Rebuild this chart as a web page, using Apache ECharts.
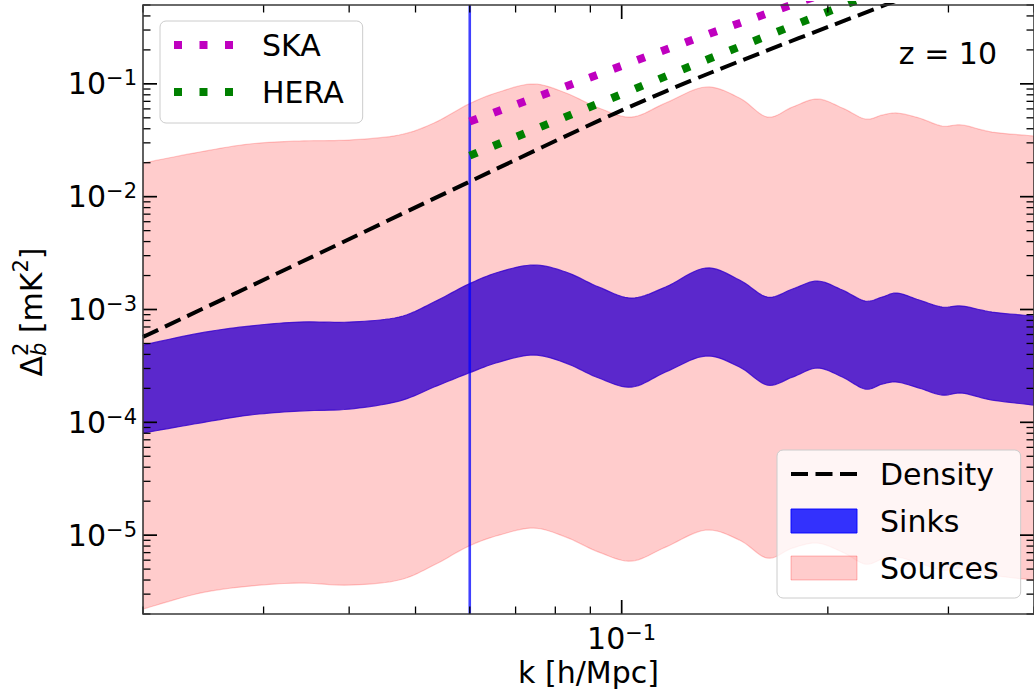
<!DOCTYPE html>
<html>
<head>
<meta charset="utf-8">
<title>Δ²_b (k) at z = 10</title>
<script src="https://cdn.jsdelivr.net/npm/echarts@6.0.0/dist/echarts.min.js"></script>
<style>
  html, body { margin: 0; padding: 0; background: #ffffff; }
  #chart { width: 1034px; height: 698px; }
</style>
</head>
<body>
<div id="chart"></div>
<script>
// ---- data -----------------------------------------------------------------
// wavenumbers (h/Mpc) at which the band edges are sampled
const kGrid = [0.0200, 0.0242, 0.0286, 0.0338, 0.0400, 0.0473, 0.0532, 0.0598,
  0.0662, 0.0744, 0.0829, 0.0926, 0.1034, 0.1159, 0.1326, 0.1486, 0.1632,
  0.1776, 0.1931, 0.2100, 0.2268, 0.2401, 0.2525, 0.2719, 0.2937, 0.3141,
  0.3474, 0.4000];

// Sinks band (mK^2)
const sinksUpper = [4.84e-4, 6.18e-4, 7.13e-4, 7.74e-4, 7.74e-4, 8.57e-4, 1.164e-3,
  1.681e-3, 2.148e-3, 2.477e-3, 2.148e-3, 1.581e-3, 1.263e-3, 1.581e-3, 2.331e-3,
  1.824e-3, 1.289e-3, 1.518e-3, 1.788e-3, 1.487e-3, 1.188e-3, 1.289e-3, 1.398e-3,
  1.213e-3, 1.051e-3, 1.073e-3, 9.49e-4, 8.74e-4];
const sinksLower = [8.03e-5, 9.85e-5, 1.159e-4, 1.258e-4, 1.310e-4, 1.543e-4, 2.054e-4,
  2.733e-4, 3.42e-4, 3.947e-4, 3.35e-4, 2.468e-4, 2.054e-4, 2.79e-4, 3.867e-4,
  3.09e-4, 2.139e-4, 2.518e-4, 3.027e-4, 2.518e-4, 1.971e-4, 2.183e-4, 2.274e-4,
  2.012e-4, 1.744e-4, 1.816e-4, 1.575e-4, 1.422e-4];

// Sources band (mK^2)
const sourcesUpper = [1.987e-2, 2.488e-2, 2.929e-2, 3.114e-2, 3.178e-2, 3.52e-2, 4.497e-2,
  6.63e-2, 8.47e-2, 9.97e-2, 8.30e-2, 6.11e-2, 5.08e-2, 6.76e-2, 9.38e-2,
  7.49e-2, 5.08e-2, 6.23e-2, 7.34e-2, 6.11e-2, 4.88e-2, 5.29e-2, 5.51e-2,
  4.98e-2, 4.23e-2, 4.32e-2, 3.74e-2, 3.45e-2];
const sourcesLower = [2.21e-6, 3.06e-6, 3.53e-6, 3.76e-6, 3.61e-6, 4.00e-6, 5.43e-6,
  7.99e-6, 1.00e-5, 1.155e-5, 9.61e-6, 7.07e-6, 5.89e-6, 7.83e-6, 1.108e-5,
  9.04e-6, 6.26e-6, 7.68e-6, 8.50e-6, 7.07e-6, 5.54e-6, 6.13e-6, 6.39e-6,
  5.65e-6, 4.90e-6, 5.10e-6, 4.42e-6, 4.00e-6];

// density power spectrum
const densityK = [0.020, 0.0338, 0.0598, 0.0980, 0.1357, 0.2425, 0.400];
const densityV = [5.70e-4, 2.58e-3, 1.349e-2, 5.51e-2, 0.1274, 0.50, 1.60];

// instrument sensitivities
const skaK = [0.060, 0.1352, 0.400];
const skaV = [4.64e-2, 0.2823, 2.835];
const heraK = [0.060, 0.1339, 0.1996, 0.400];
const heraV = [2.312e-2, 0.1661, 0.4334, 2.311];

// smallest accessible wavenumber
const kCut = 0.06;

// axes
const kRange = [0.02, 0.4];
const yRange = [2e-6, 0.5];
const xMajorTicks = [0.1];
const xMinorTicks = [0.02, 0.03, 0.04, 0.05, 0.06, 0.07, 0.08, 0.09, 0.2, 0.3, 0.4];
const yMajorTicks = [1e-5, 1e-4, 1e-3, 1e-2, 1e-1];
const minorMantissas = [2, 3, 4, 5, 6, 7, 8, 9];
const yDecades = [1e-6, 1e-5, 1e-4, 1e-3, 1e-2, 1e-1];
const redshiftLabel = 'z = 10';

// ---- helpers --------------------------------------------------------------
const FONT = 'DejaVu Sans';
const yMinorTicks = [];
yDecades.forEach(d => minorMantissas.forEach(m => {
  const v = m * d;
  if (v >= yRange[0] * 0.999 && v <= yRange[1] * 1.001) yMinorTicks.push(v);
}));

const pairs = (xs, ys) => xs.map((x, i) => [x, ys[i]]);

// Catmull-Rom pass through pixel points so the band edges render smoothly
function spline(pts, steps) {
  const out = [];
  const n = pts.length;
  for (let i = 0; i < n - 1; i++) {
    const p0 = pts[Math.max(i - 1, 0)], p1 = pts[i], p2 = pts[i + 1], p3 = pts[Math.min(i + 2, n - 1)];
    for (let s = 0; s < steps; s++) {
      const t = s / steps, t2 = t * t, t3 = t2 * t;
      const c = j => 0.5 * (2 * p1[j] + (-p0[j] + p2[j]) * t +
        (2 * p0[j] - 5 * p1[j] + 4 * p2[j] - p3[j]) * t2 +
        (-p0[j] + 3 * p1[j] - 3 * p2[j] + p3[j]) * t3);
      out.push([c(0), c(1)]);
    }
  }
  out.push(pts[n - 1]);
  return out;
}

function bandRenderer(upper, lower, fill) {
  return function (params, api) {
    const cs = params.coordSys;
    const up = spline(kGrid.map((k, i) => api.coord([k, upper[i]])), 10);
    const lo = spline(kGrid.map((k, i) => api.coord([k, lower[i]])), 10);
    return {
      type: 'polygon',
      shape: { points: up.concat(lo.reverse()) },
      style: { fill: fill, stroke: fill, lineWidth: 1.2 },
      clipPath: { type: 'rect', shape: { x: cs.x, y: cs.y, width: cs.width, height: cs.height } },
      silent: true
    };
  };
}

// frame and inward ticks on all four sides
function frameRenderer(params, api) {
  const cs = params.coordSys;
  const L = cs.x, R = cs.x + cs.width, T = cs.y, B = cs.y + cs.height;
  const els = [];
  const seg = (x1, y1, x2, y2, w) => els.push({
    type: 'line', shape: { x1, y1, x2, y2 },
    style: { stroke: '#000', lineWidth: w }, silent: true
  });
  yMajorTicks.forEach(v => { const y = api.coord([kRange[0], v])[1]; seg(L, y, L + 14, y, 1.7); seg(R, y, R - 14, y, 1.7); });
  yMinorTicks.forEach(v => { const y = api.coord([kRange[0], v])[1]; seg(L, y, L + 7.5, y, 1.3); seg(R, y, R - 7.5, y, 1.3); });
  xMajorTicks.forEach(k => { const x = api.coord([k, yRange[0]])[0]; seg(x, B, x, B - 14, 1.7); seg(x, T, x, T + 14, 1.7); });
  xMinorTicks.forEach(k => { const x = api.coord([k, yRange[0]])[0]; seg(x, B, x, B - 7.5, 1.3); seg(x, T, x, T + 7.5, 1.3); });
  els.push({
    type: 'rect', shape: { x: L, y: T, width: cs.width, height: cs.height },
    style: { fill: 'none', stroke: '#3a3a3a', lineWidth: 1.6 }, silent: true
  });
  return { type: 'group', children: els };
}

function powLabel(v) {
  const e = Math.log10(v), r = Math.round(e);
  if (Math.abs(e - r) > 1e-6) return '';
  return '{b|10}{s|' + (r < 0 ? '\u2212' + (-r) : r) + '}';
}
const labelRich = {
  b: { fontSize: 30, fontFamily: FONT, color: '#000', lineHeight: 32 },
  s: { fontSize: 21, fontFamily: FONT, color: '#000', lineHeight: 20, verticalAlign: 'top' }
};

// rotated y-axis title: Δ with stacked b / 2, then [mK²]
function yTitle() {
  const ctx = document.createElement('canvas').getContext('2d');
  const big = '30px "' + FONT + '"', small = '21px "' + FONT + '"', smallIt = 'italic 21px "' + FONT + '"';
  const w = (t, f) => { ctx.font = f; return ctx.measureText(t).width; };
  const pieces = [
    { t: '\u0394', f: big, dy: 0 },
    { t: '2', f: small, dy: -10, stackWith: { t: 'b', f: smallIt, dy: 8 } },
    { t: ' [mK', f: big, dy: 0 },
    { t: '2', f: small, dy: -10 },
    { t: ']', f: big, dy: 0 }
  ];
  let total = 0;
  pieces.forEach(p => { p.w = Math.max(w(p.t, p.f), p.stackWith ? w(p.stackWith.t, p.stackWith.f) : 0); total += p.w; });
  let x = -total / 2;
  const kids = [];
  pieces.forEach(p => {
    kids.push({ type: 'text', x: x, y: p.dy, style: { text: p.t, font: p.f, fill: '#000', verticalAlign: 'middle' } });
    if (p.stackWith) kids.push({ type: 'text', x: x, y: p.stackWith.dy, style: { text: p.stackWith.t, font: p.stackWith.f, fill: '#000', verticalAlign: 'middle' } });
    x += p.w;
  });
  return { type: 'group', x: 31, y: 312, rotation: Math.PI / 2, silent: true, children: kids };
}

// ---- chart ----------------------------------------------------------------
const chart = echarts.init(document.getElementById('chart'), null, { renderer: 'svg' });

// line entries in the legends show only their own dash pattern, no marker
const noMarker = { color: 'rgba(0,0,0,0)', opacity: 0, borderWidth: 0 };

const legendBase = {
  orient: 'vertical',
  selectedMode: false,
  backgroundColor: 'rgba(255,255,255,0.8)',
  borderColor: '#cccccc',
  borderWidth: 1,
  borderRadius: 6,
  itemHeight: 24,
  itemGap: 17,
  lineStyle: { width: 'inherit', type: 'inherit', cap: 'butt' },
  textStyle: { fontSize: 30, fontFamily: FONT, color: '#000', lineHeight: 24 }
};

chart.setOption({
  animation: false,
  backgroundColor: '#ffffff',
  grid: { left: 143, top: 5, right: -2, bottom: 84, containLabel: false },
  xAxis: {
    type: 'log', logBase: 10, min: kRange[0], max: kRange[1],
    axisLine: { show: false }, axisTick: { show: false }, splitLine: { show: false },
    axisLabel: { formatter: powLabel, rich: labelRich, margin: 8, showMinLabel: false, showMaxLabel: false },
    name: 'k [h/Mpc]', nameLocation: 'middle', nameGap: 39,
    nameTextStyle: { fontSize: 30, fontFamily: FONT, color: '#000' }
  },
  yAxis: {
    type: 'log', logBase: 10, min: yRange[0], max: yRange[1],
    axisLine: { show: false }, axisTick: { show: false }, splitLine: { show: false },
    axisLabel: { formatter: powLabel, rich: labelRich, margin: 6, showMinLabel: false, showMaxLabel: false }
  },
  legend: [
    Object.assign({}, legendBase, {
      data: [
        { name: 'SKA', itemStyle: noMarker },
        { name: 'HERA', itemStyle: noMarker }
      ],
      left: 160, top: 21,
      padding: [9, 19, 16, 10],
      itemWidth: 62,
      textStyle: Object.assign({}, legendBase.textStyle, { padding: [0, 0, 0, 21] })
    }),
    Object.assign({}, legendBase, {
      data: [
        { name: 'Density', itemStyle: noMarker },
        { name: 'Sinks', icon: 'rect', itemStyle: { color: 'rgba(0,0,255,0.8)', borderColor: 'rgba(0,0,255,0.9)', borderWidth: 1 } },
        { name: 'Sources', icon: 'rect', itemStyle: { color: 'rgba(255,0,0,0.2)', borderColor: 'rgba(255,0,0,0.25)', borderWidth: 1 } }
      ],
      left: 777, top: 450,
      padding: [9, 22, 15, 12],
      itemWidth: 66,
      textStyle: Object.assign({}, legendBase.textStyle, { padding: [0, 0, 0, 18] })
    })
  ],
  graphic: [
    yTitle(),
    {
      type: 'text', x: 997, y: 53, silent: true,
      style: { text: redshiftLabel, font: '30px "' + FONT + '"', fill: '#000', align: 'right', verticalAlign: 'middle' }
    }
  ],
  series: [
    {
      name: 'Sinks', type: 'custom', z: 2,
      itemStyle: { color: 'rgba(0,0,255,0.8)' },
      data: [[kRange[0], yRange[0]]],
      renderItem: bandRenderer(sinksUpper, sinksLower, 'rgba(0,0,255,0.8)')
    },
    {
      name: 'Sources', type: 'custom', z: 2,
      itemStyle: { color: 'rgba(255,0,0,0.2)' },
      data: [[kRange[0], yRange[0]]],
      renderItem: bandRenderer(sourcesUpper, sourcesLower, 'rgba(255,0,0,0.2)')
    },
    {
      name: 'kmin', type: 'line', z: 3, symbol: 'none', silent: true,
      data: [[kCut, yRange[0]], [kCut, yRange[1]]],
      lineStyle: { color: 'rgba(0,0,255,0.75)', width: 2.6 }
    },
    {
      name: 'Density', type: 'line', z: 4, symbol: 'none', smooth: 0.3, silent: true,
      data: pairs(densityK, densityV),
      itemStyle: { color: '#000' },
      lineStyle: { color: '#000', width: 4, type: [17, 7.5], cap: 'butt' }
    },
    {
      name: 'SKA', type: 'line', z: 4, symbol: 'none', silent: true,
      data: pairs(skaK, skaV),
      itemStyle: { color: '#bf00bf' },
      lineStyle: { color: '#bf00bf', width: 8, type: [8, 17.5], cap: 'butt' }
    },
    {
      name: 'HERA', type: 'line', z: 4, symbol: 'none', silent: true,
      data: pairs(heraK, heraV),
      itemStyle: { color: '#008000' },
      lineStyle: { color: '#008000', width: 8, type: [8, 17.5], cap: 'butt' }
    },
    {
      name: 'frame', type: 'custom', z: 10, silent: true,
      data: [[kRange[0], yRange[0]]],
      renderItem: frameRenderer
    }
  ]
});
</script>
</body>
</html>
